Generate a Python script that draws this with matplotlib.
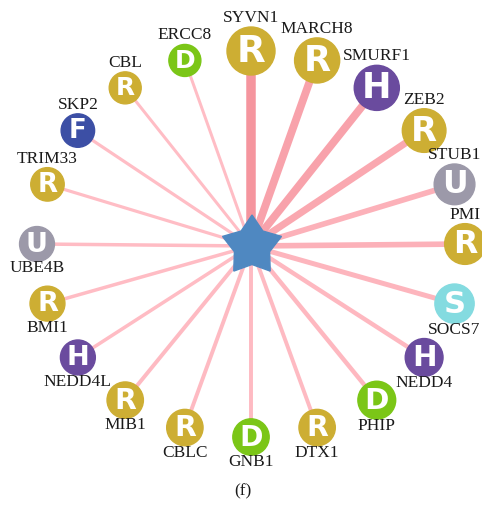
import numpy as np
import matplotlib.pyplot as plt
from matplotlib.patches import Circle, Polygon
from matplotlib.colors import to_rgb

# partners of the hub protein, clockwise from the top
names = ["SYVN1", "MARCH8", "SMURF1", "ZEB2", "STUB1", "PMI", "SOCS7", "NEDD4",
         "PHIP", "DTX1", "GNB1", "CBLC", "MIB1", "NEDD4L", "BMI1", "UBE4B",
         "TRIM33", "SKP2", "CBL", "ERCC8"]
types = ["R", "R", "H", "R", "U", "R", "S", "H",
         "D", "R", "D", "R", "R", "H", "R", "U",
         "R", "F", "R", "D"]
scores = [1.00, 0.90, 0.90, 0.85, 0.75, 0.75, 0.70, 0.65,
          0.65, 0.60, 0.60, 0.60, 0.60, 0.55, 0.55, 0.55,
          0.50, 0.50, 0.45, 0.45]
caption = "(f)"

type_colors = {"R": "#cdae33", "D": "#7bc617", "H": "#6a4b9e",
               "F": "#3c4fa5", "U": "#9c99a9", "S": "#84dbe0"}

W, H = 482, 519
fig = plt.figure(figsize=(W / 100, H / 100), dpi=100)
ax = fig.add_axes([0, 0, 1, 1])
ax.set_xlim(0, W)
ax.set_ylim(H, 0)
ax.axis("off")

cx, cy = 251, 244
rx, ry = 214, 193
n = len(names)
ang = np.deg2rad(90 - 18 * np.arange(n))
xs = cx + rx * np.cos(ang)
ys = cy - ry * np.sin(ang)

s = np.array(scores)
t = (s - s.min()) / (s.max() - s.min())
radius = 16 + 8 * t
width_px = 3 + 6.5 * t ** 1.5
light, dark = np.array(to_rgb("#ffbdc5")), np.array(to_rgb("#f5959e"))

# edges first
for i in range(n):
    col = light + (dark - light) * t[i] ** 2
    ax.plot([cx, xs[i]], [cy + 2, ys[i]], color=col, lw=width_px[i] * 0.72,
            solid_capstyle="butt", zorder=1)

# nodes + letters + labels
for i in range(n):
    r = radius[i]
    ax.add_patch(Circle((xs[i], ys[i]), r, color=type_colors[types[i]], zorder=3))
    ax.text(xs[i], ys[i] + 0.5, types[i], color="white", fontsize=1.12 * r,
            fontweight="bold", family="DejaVu Sans", ha="center", va="center",
            zorder=4)
    above = i <= 5 or i >= 16
    ly = ys[i] - (r + 9) if above else ys[i] + (r + 7)
    ax.text(xs[i], ly, names[i], fontsize=12.5, family="Liberation Serif",
            color="#1a1a1a", ha="center", va="center", zorder=5)

# central star
R_out, R_in = 31, 18.5
sx, sy = 252, 246
pts = []
for k in range(10):
    a = np.deg2rad(90 + 36 * k)
    rr = R_out if k % 2 == 0 else R_in
    pts.append((sx + rr * np.cos(a), sy - rr * np.sin(a)))
ax.add_patch(Polygon(pts, closed=True, color="#4f88c1", zorder=6))

ax.text(243, 491, caption, fontsize=12.5, family="Liberation Serif",
        color="#1a1a1a", ha="center", va="center")

fig.savefig("out.png", dpi=100)
